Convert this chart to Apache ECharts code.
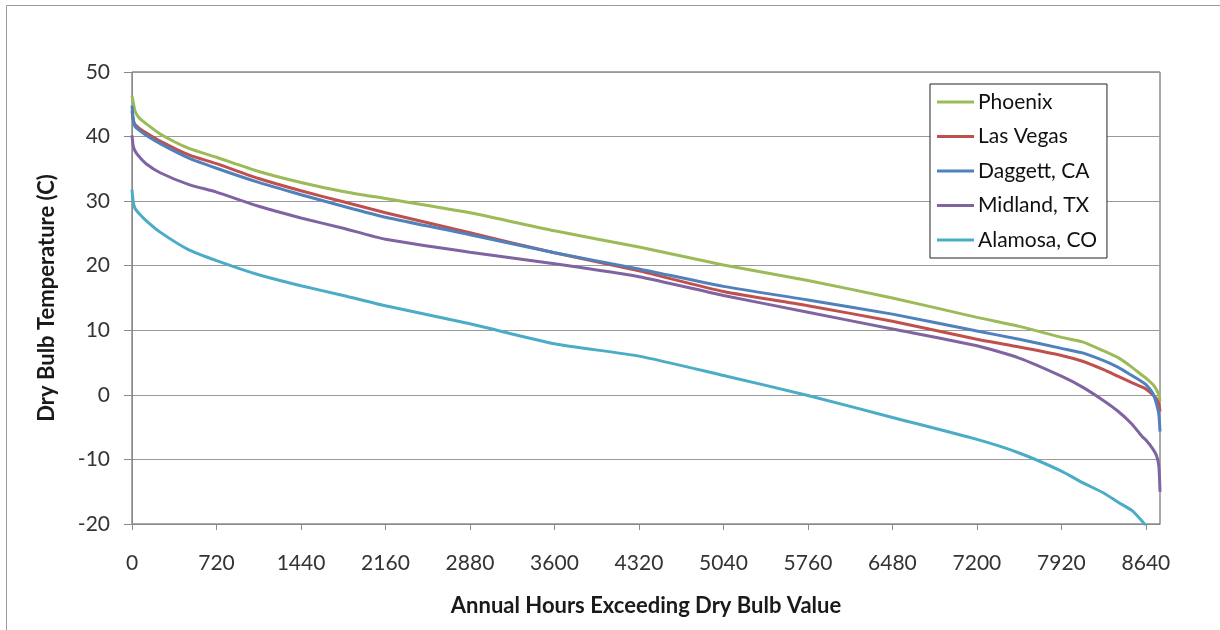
<!DOCTYPE html>
<html>
<head>
<meta charset="utf-8">
<script src="https://cdn.jsdelivr.net/npm/echarts@6/dist/echarts.min.js"></script>
<style>
  html, body { margin: 0; padding: 0; background: #fff; }
  #chart { width: 1220px; height: 630px; }
</style>
</head>
<body>
<div id="chart"></div>
<script>
// Annual hours (sorted) at which each dry bulb temperature is sampled
const hours = [0, 10, 25, 60, 120, 240, 480, 720, 1080, 1440, 1800, 2160, 2880, 3600, 4320, 5040, 5760, 6480, 7200, 7560, 7920, 8100, 8280, 8400, 8520, 8610, 8640, 8700, 8730, 8750, 8760];

// Dry bulb temperature (C) exceeded for the given number of hours
const phoenix  = [46.3, 45.4, 44.0, 42.9, 42.0, 40.4, 38.2, 36.8, 34.6, 32.9, 31.5, 30.4, 28.2, 25.4, 22.9, 20.1, 17.7, 15.0, 12.0, 10.6, 8.9, 8.2, 6.8, 5.8, 4.3, 3.0, 2.6, 1.6, 0.8, 0.0, -0.9];
const lasVegas = [44.0, 42.6, 41.9, 41.3, 40.6, 39.3, 37.2, 35.8, 33.5, 31.6, 29.9, 28.2, 25.1, 22.0, 19.2, 16.0, 13.8, 11.4, 8.6, 7.4, 6.1, 5.2, 3.9, 2.9, 1.9, 1.2, 0.9, 0.0, -0.6, -1.4, -2.6];
const daggett  = [44.8, 42.8, 41.6, 41.0, 40.2, 38.9, 36.7, 35.1, 32.9, 31.0, 29.2, 27.5, 24.8, 22.0, 19.5, 16.8, 14.7, 12.5, 9.9, 8.6, 7.2, 6.5, 5.3, 4.3, 3.0, 2.0, 1.6, 0.2, -1.4, -3.0, -5.7];
const midland  = [40.2, 38.6, 37.8, 36.9, 35.8, 34.4, 32.6, 31.4, 29.2, 27.4, 25.8, 24.1, 22.1, 20.3, 18.3, 15.4, 12.8, 10.2, 7.6, 5.7, 2.9, 1.2, -0.9, -2.5, -4.5, -6.5, -7.0, -8.4, -9.4, -11.0, -15.0];
const alamosa  = [31.8, 30.0, 28.9, 28.1, 27.0, 25.2, 22.5, 20.8, 18.6, 16.9, 15.4, 13.8, 11.0, 7.9, 6.0, 3.0, -0.1, -3.5, -6.9, -9.0, -11.8, -13.6, -15.2, -16.6, -17.9, -19.6, -20.3, null, null, null, null];

const seriesNames = ['Phoenix', 'Las Vegas', 'Daggett, CA', 'Midland, TX', 'Alamosa, CO'];
const seriesValues = [phoenix, lasVegas, daggett, midland, alamosa];
const seriesColors = ['#9BBB59', '#C0504D', '#4F81BD', '#8064A2', '#4BACC6'];

// Axis tick positions
const xTicks = [0, 720, 1440, 2160, 2880, 3600, 4320, 5040, 5760, 6480, 7200, 7920, 8640];
const yTicks = [-20, -10, 0, 10, 20, 30, 40, 50];

const FONT = 'Lato, "Open Sans", sans-serif';

const chart = echarts.init(document.getElementById('chart'), null, { renderer: 'canvas' });

const series = seriesNames.map((name, i) => ({
  name: name,
  type: 'line',
  data: hours.map((h, k) => [h, seriesValues[i][k]]),
  showSymbol: false,
  symbol: 'none',
  smooth: 0.2,
  connectNulls: false,
  clip: true,
  lineStyle: { color: seriesColors[i], width: 3 },
  itemStyle: { color: seriesColors[i] },
  emphasis: { disabled: true },
  z: 3 + i
}));

chart.setOption({
  animation: false,
  backgroundColor: '#ffffff',
  graphic: [{
    type: 'rect',
    shape: { x: 6.5, y: 5.5, width: 1400, height: 800 },
    style: { fill: 'none', stroke: '#9a9a9a', lineWidth: 1 },
    silent: true,
    z: 0
  }],
  grid: {
    left: 132, top: 72, width: 1028, height: 452,
    show: true, borderColor: '#555', borderWidth: 1,
    containLabel: false
  },
  legend: {
    orient: 'vertical',
    left: 930, top: 84,
    data: seriesNames,
    icon: 'rect',
    itemWidth: 37, itemHeight: 3,
    itemGap: 10.5,
    padding: [6, 10, 6, 7],
    backgroundColor: '#ffffff',
    borderColor: '#222',
    borderWidth: 1,
    selectedMode: false,
    textStyle: { fontFamily: FONT, fontSize: 21, color: '#111', lineHeight: 24, padding: [0, 0, 0, -1] },
    z: 20
  },
  xAxis: {
    type: 'value',
    min: 0, max: 8760, interval: 720,
    name: 'Annual Hours Exceeding Dry Bulb Value',
    nameLocation: 'middle',
    nameGap: 71,
    nameTextStyle: { fontFamily: FONT, fontSize: 22, fontWeight: 'bold', color: '#1a1a1a' },
    axisLine: { show: true, onZero: false, lineStyle: { color: '#8a8a8a', width: 1 } },
    axisTick: { show: true, inside: false, length: 6, customValues: xTicks, lineStyle: { color: '#8a8a8a' } },
    axisLabel: {
      customValues: xTicks,
      margin: 29,
      fontFamily: FONT, fontSize: 21, color: '#333',
      formatter: v => (v === 8760 ? '' : String(v))
    },
    splitLine: { show: false }
  },
  yAxis: {
    type: 'value',
    min: -20, max: 50, interval: 10,
    name: 'Dry Bulb Temperature (C)',
    nameLocation: 'middle',
    nameGap: 74,
    nameTextStyle: { fontFamily: FONT, fontSize: 22, fontWeight: 'bold', color: '#1a1a1a' },
    axisLine: { show: true, onZero: false, lineStyle: { color: '#8a8a8a', width: 1 } },
    axisTick: { show: true, inside: false, length: 8, lineStyle: { color: '#8a8a8a' } },
    axisLabel: {
      margin: 22,
      fontFamily: FONT, fontSize: 21, color: '#333',
      formatter: v => (yTicks.includes(v) ? String(v) : '')
    },
    splitLine: { show: true, lineStyle: { color: '#9a9a9a', width: 1 } }
  },
  series: series
});
</script>
</body>
</html>
